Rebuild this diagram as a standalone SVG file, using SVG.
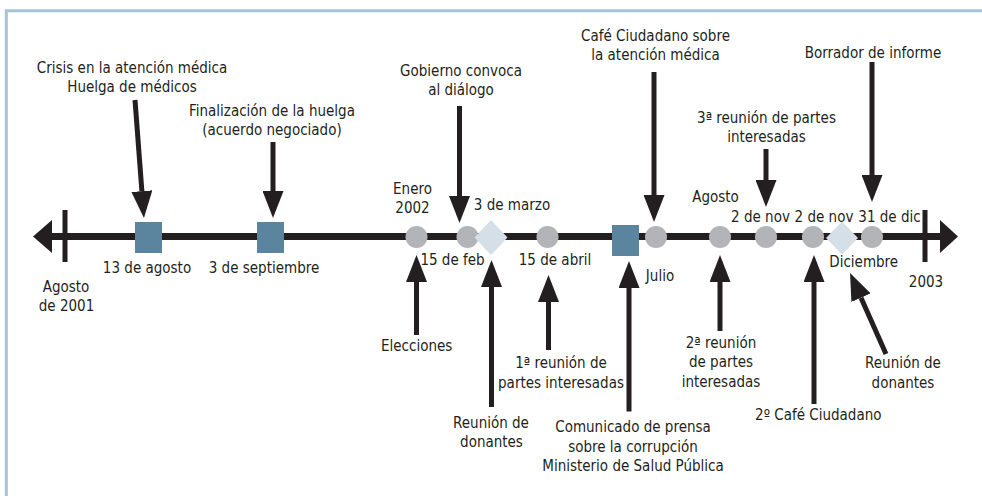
<svg xmlns="http://www.w3.org/2000/svg" width="982" height="496" viewBox="0 0 982 496">
<defs>
<style>
text{font-family:"DejaVu Sans Condensed","Liberation Sans",sans-serif;font-size:15px;fill:#231f20;text-anchor:middle}
.sq{fill:#5b849f}
.ci{fill:#b2b4b7}
.di{fill:#d4dfe8}
.ar{stroke:#231f20;stroke-width:5;fill:none;marker-end:url(#ah)}
</style>
<marker id="ah" viewBox="0 0 27 21" refX="0" refY="10.5" markerWidth="27" markerHeight="21" markerUnits="userSpaceOnUse" orient="auto">
<path d="M0,0 L27,10.5 L0,21 Z" fill="#231f20"/>
</marker>
</defs>
<rect width="982" height="496" fill="#ffffff"/>
<path d="M6.3,496 V10.7 H982" fill="none" stroke="#a9c3d6" stroke-width="3"/>

<g id="timeline">
<line x1="48" y1="236.5" x2="944" y2="236.5" stroke="#231f20" stroke-width="7"/>
<polygon points="33,236.5 52,220 52,253" fill="#231f20"/>
<polygon points="958,236.5 940,220 940,253" fill="#231f20"/>
<rect x="62.5" y="210" width="5" height="52" fill="#231f20"/>
<rect x="922.5" y="210" width="5" height="52" fill="#231f20"/>
<text x="66" y="291.5">Agosto</text>
<text x="66.5" y="311">de 2001</text>
<text x="926" y="287">2003</text>
</g>

<g id="connectors">
<line class="ar" x1="135" y1="100" x2="141.9" y2="191.1"/>
<line class="ar" x1="273" y1="142" x2="273" y2="191"/>
<line class="ar" x1="459.5" y1="106" x2="459.5" y2="196"/>
<line class="ar" x1="654" y1="72" x2="654" y2="195"/>
<line class="ar" x1="766" y1="149" x2="766" y2="180"/>
<line class="ar" x1="872" y1="62" x2="872" y2="175"/>
<line class="ar" x1="416.5" y1="335" x2="416.5" y2="282"/>
<line class="ar" x1="491.5" y1="407" x2="491.5" y2="287"/>
<line class="ar" x1="548.5" y1="350" x2="548.5" y2="302"/>
<line class="ar" x1="629" y1="411.5" x2="629" y2="288"/>
<line class="ar" x1="720" y1="331" x2="720" y2="282"/>
<line class="ar" x1="814" y1="404" x2="814" y2="282"/>
<line class="ar" x1="886" y1="354" x2="861" y2="297.7"/>
</g>

<g id="n-crisis">
<rect class="sq" x="135" y="222" width="27" height="31"/>
<text x="132" y="72.5">Crisis en la atención médica</text>
<text x="132" y="91.5">Huelga de médicos</text>
<text x="147" y="272.5">13 de agosto</text>
</g>
<g id="n-finalizacion">
<rect class="sq" x="257" y="222" width="27" height="31"/>
<text x="272" y="116">Finalización de la huelga</text>
<text x="272" y="135">(acuerdo negociado)</text>
<text x="264" y="272.5">3 de septiembre</text>
</g>
<g id="n-enero">
<circle class="ci" cx="416.5" cy="237" r="11"/>
<text x="412.5" y="193.5">Enero</text>
<text x="412.5" y="213">2002</text>
<text x="416.7" y="350.5">Elecciones</text>
</g>
<g id="n-feb">
<circle class="ci" cx="467.5" cy="237" r="11"/>
<text x="461" y="75.5">Gobierno convoca</text>
<text x="461" y="94.5">al diálogo</text>
<text x="452.5" y="265">15 de feb</text>
</g>
<g id="n-marzo">
<polygon class="di" points="491,220 507.5,237.5 491,255 474.5,237.5"/>
<text x="512" y="210">3 de marzo</text>
<text x="491" y="427.5">Reunión de</text>
<text x="491.5" y="447">donantes</text>
</g>
<g id="n-abril">
<circle class="ci" cx="547.5" cy="237" r="11"/>
<text x="555" y="265">15 de abril</text>
<text x="561" y="368.3">1ª reunión de</text>
<text x="561" y="387.7">partes interesadas</text>
</g>
<g id="n-comunicado">
<rect class="sq" x="612" y="225" width="27" height="31"/>
<text x="633" y="432">Comunicado de prensa</text>
<text x="633" y="451.5">sobre la corrupción</text>
<text x="633" y="471">Ministerio de Salud Pública</text>
</g>
<g id="n-julio">
<circle class="ci" cx="656" cy="237" r="11"/>
<text x="655.5" y="40.5">Café Ciudadano sobre</text>
<text x="655.5" y="59.5">la atención médica</text>
<text x="660" y="280.5">Julio</text>
</g>
<g id="n-agosto">
<circle class="ci" cx="720" cy="237" r="11"/>
<text x="715.5" y="201.5">Agosto</text>
<text x="721" y="347.7">2ª reunión</text>
<text x="721" y="367.3">de partes</text>
<text x="721" y="387">interesadas</text>
</g>
<g id="n-nov1">
<circle class="ci" cx="766" cy="237" r="11"/>
<text x="760.5" y="221.5">2 de nov</text>
<text x="766.5" y="122.5">3ª reunión de partes</text>
<text x="766.5" y="141.5">interesadas</text>
</g>
<g id="n-nov2">
<circle class="ci" cx="813" cy="237" r="11"/>
<text x="824" y="221.5">2 de nov</text>
<text x="818.3" y="420">2º Café Ciudadano</text>
</g>
<g id="n-diciembre">
<polygon class="di" points="842,221.5 858,238 842,254.5 826,238"/>
<text x="863.7" y="266.5">Diciembre</text>
<text x="903" y="368.3">Reunión de</text>
<text x="903" y="388">donantes</text>
</g>
<g id="n-dic31">
<circle class="ci" cx="872" cy="237" r="11"/>
<text x="889.5" y="221.5">31 de dic</text>
<text x="873" y="57.5">Borrador de informe</text>
</g>
</svg>
